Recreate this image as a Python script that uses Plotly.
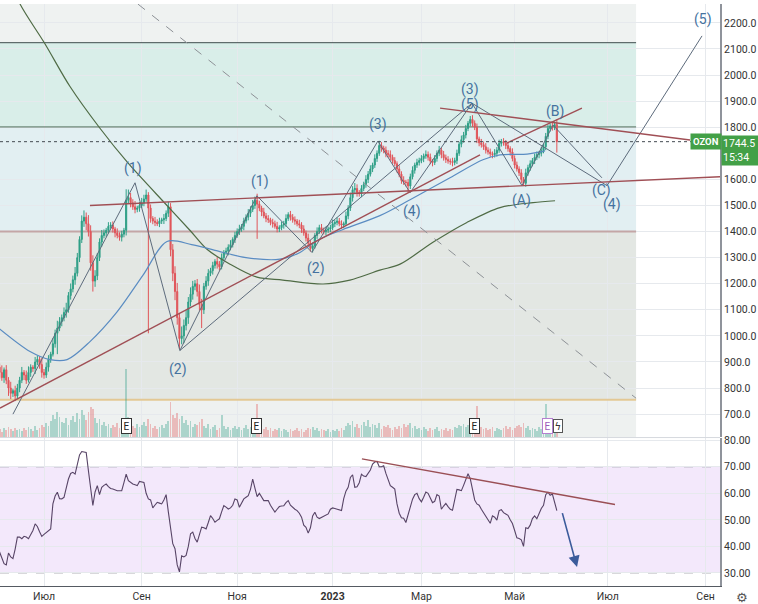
import numpy as np
import pandas as pd
import plotly.graph_objects as go

# ---------------- calendar (MOEX trading days) ----------------
holidays = ["2022-06-13", "2022-11-04", "2023-02-23", "2023-02-24",
            "2023-03-08", "2023-05-01", "2023-05-09", "2023-06-12"]
cal = [d for d in pd.bdate_range("2022-06-01", "2023-10-31")
       if d.strftime("%Y-%m-%d") not in holidays]

tick_months = ["2022-07", "2022-09", "2022-11", "2023-01", "2023-03", "2023-05", "2023-07", "2023-09"]
tick_labels = ["Июл", "Сен", "Ноя", "<b>2023</b>", "Мар", "Май", "Июл", "Сен"]
price_ticks = [700, 800, 900, 1000, 1100, 1200, 1300, 1400, 1500, 1600, 1800, 1900, 2000, 2100, 2200]
rsi_ticks = [30, 40, 50, 60, 70, 80]

# ---------------- OZON daily data ----------------
first_open = 900
closes = [
    880, 860, 840, 870, 830, 800, 780, 790, 770, 800,
    830, 860, 850, 830, 860, 880, 875, 900, 910, 890,
    860, 850, 880, 910, 930, 970, 1010, 1030, 1055, 1070,
    1090, 1100, 1155, 1180, 1215, 1240, 1300, 1370, 1440, 1455,
    1430, 1400, 1280, 1210, 1230, 1300, 1360, 1385, 1395, 1405,
    1420, 1425, 1410, 1395, 1385, 1378, 1390, 1405, 1520, 1530,
    1510, 1495, 1485, 1490, 1500, 1510, 1525, 1540, 1490, 1450,
    1440, 1435, 1430, 1440, 1445, 1450, 1470, 1495, 1330, 1240,
    1170, 1070, 990, 1000, 1040, 1070, 1130, 1160, 1190, 1200,
    1170, 1120, 1100, 1190, 1210, 1240, 1250, 1270, 1285, 1275,
    1265, 1300, 1320, 1325, 1340, 1350, 1370, 1385, 1400, 1410,
    1420, 1440, 1455, 1470, 1485, 1500, 1520, 1505, 1490, 1475,
    1460, 1450, 1445, 1435, 1430, 1420, 1410, 1415, 1425, 1430,
    1450, 1465, 1455, 1445, 1440, 1430, 1425, 1410, 1395, 1375,
    1355, 1335, 1345, 1385, 1400, 1415, 1405, 1400, 1405, 1410,
    1415, 1430, 1435, 1440, 1430, 1425, 1430, 1460, 1490, 1530,
    1560, 1565, 1550, 1545, 1565, 1580, 1600, 1620, 1640, 1655,
    1680, 1700, 1730, 1720, 1712, 1700, 1695, 1685, 1672, 1660,
    1640, 1620, 1596, 1590, 1588, 1575, 1610, 1635, 1655, 1665,
    1672, 1680, 1690, 1695, 1685, 1670, 1665, 1680, 1700, 1712,
    1695, 1683, 1676, 1670, 1668, 1665, 1672, 1700, 1735, 1752,
    1770, 1795, 1815, 1830, 1815, 1800, 1755, 1740, 1733, 1725,
    1712, 1705, 1698, 1695, 1700, 1712, 1738, 1745, 1740, 1730,
    1718, 1705, 1680, 1655, 1640, 1625, 1600, 1585, 1625, 1645,
    1660, 1672, 1685, 1695, 1700, 1710, 1725, 1765, 1795, 1805,
    1800, 1810, 1744.5,
]
up_wick = [
    22, 14, 27, 9, 18, 12, 24, 8, 19, 16,
    13, 21, 9, 17, 23, 11, 8, 19, 14, 12,
    26, 13, 18, 16, 9, 22, 14, 28, 17, 12,
    19, 27, 13, 21, 16, 24, 18, 12, 22, 26,
    18, 33, 24, 29, 22, 17, 14, 21, 13, 9,
    16, 11, 14, 8, 17, 12, 13, 9, 42, 31,
    18, 14, 22, 9, 13, 19, 16, 21, 11, 14,
    9, 16, 12, 13, 8, 17, 11, 19, 14, 22,
    27, 33, 18, 36, 23, 29, 19, 26, 21, 14,
    18, 27, 22, 13, 19, 16, 11, 14, 9, 17,
    12, 16, 9, 13, 11, 17, 8, 14, 12, 16,
    9, 13, 11, 16, 12, 21, 14, 25, 13, 9,
    16, 11, 13, 8, 14, 12, 17, 9, 13, 11,
    16, 9, 14, 12, 13, 8, 15, 11, 14, 9,
    17, 12, 13, 9, 16, 11, 14, 10, 13, 9,
    11, 16, 9, 14, 12, 13, 8, 17, 11, 19,
    14, 21, 16, 9, 13, 11, 16, 12, 14, 9,
    16, 11, 18, 13, 9, 14, 12, 16, 10, 13,
    9, 14, 11, 16, 8, 13, 12, 15, 9, 14,
    11, 13, 9, 16, 12, 14, 8, 13, 11, 16,
    9, 14, 12, 13, 10, 15, 11, 14, 9, 16,
    12, 14, 9, 13, 16, 11, 14, 9, 15, 12,
    14, 11, 13, 9, 16, 12, 14, 10, 13, 11,
    15, 9, 14, 12, 13, 10, 14, 9, 16, 11,
    13, 10, 14, 12, 9, 15, 11, 13, 14, 9,
    12, 12, 20,
]
down_wick = [
    18, 25, 12, 20, 15, 30, 22, 14, 20, 12,
    16, 11, 19, 14, 9, 17, 13, 21, 12, 16,
    20, 14, 11, 17, 13, 9, 15, 80, 12, 18,
    14, 20, 11, 16, 13, 19, 12, 17, 14, 22,
    25, 19, 30, 40, 22, 16, 13, 18, 11, 15,
    12, 9, 14, 17, 11, 13, 16, 12, 20, 14,
    17, 12, 15, 11, 14, 9, 13, 11, 480, 16,
    12, 14, 9, 13, 11, 16, 10, 14, 25, 30,
    33, 27, 40, 22, 28, 19, 24, 17, 21, 15,
    19, 23, 70, 16, 13, 18, 11, 15, 12, 17,
    14, 10, 13, 9, 16, 12, 11, 14, 9, 13,
    11, 15, 9, 12, 14, 10, 13, 133, 12, 16,
    9, 14, 12, 11, 15, 9, 13, 12, 10, 14,
    12, 9, 13, 11, 14, 10, 12, 15, 11, 13,
    14, 12, 15, 10, 13, 9, 12, 11, 14, 10,
    12, 9, 13, 11, 10, 14, 12, 9, 13, 11,
    15, 12, 16, 11, 13, 10, 12, 14, 9, 12,
    11, 13, 10, 14, 12, 15, 11, 13, 12, 10,
    14, 12, 13, 11, 15, 25, 12, 10, 13, 11,
    12, 10, 14, 11, 13, 12, 15, 10, 12, 11,
    14, 11, 13, 10, 12, 15, 11, 13, 10, 12,
    11, 13, 10, 12, 14, 11, 16, 13, 11, 12,
    13, 10, 12, 14, 11, 13, 10, 12, 11, 14,
    12, 14, 11, 13, 10, 12, 15, 10, 13, 11,
    12, 10, 13, 11, 14, 12, 10, 13, 11, 12,
    13, 11, 42,
]
volume = [
    6, 8, 5, 9, 7, 10, 8, 6, 9, 7,
    8, 6, 9, 7, 10, 8, 6, 11, 7, 9,
    12, 10, 14, 11, 16, 22, 18, 25, 20, 15,
    14, 19, 12, 17, 21, 15, 24, 18, 27, 22,
    17, 25, 30, 28, 19, 14, 18, 12, 15, 11,
    13, 9, 12, 10, 14, 9, 11, 13, 68, 20,
    14, 11, 9, 13, 10, 12, 15, 11, 18, 13,
    9, 11, 8, 10, 12, 9, 13, 16, 35, 22,
    19, 24, 18, 21, 14, 17, 12, 16, 10, 13,
    12, 15, 18, 11, 9, 13, 8, 10, 12, 7,
    9, 22, 11, 8, 10, 7, 9, 11, 8, 10,
    7, 9, 12, 8, 10, 11, 13, 33, 12, 9,
    8, 10, 7, 9, 6, 8, 7, 9, 6, 8,
    7, 5, 8, 6, 7, 9, 6, 8, 5, 7,
    9, 8, 10, 7, 9, 6, 8, 7, 6, 8,
    5, 7, 6, 8, 6, 9, 7, 11, 14, 12,
    16, 10, 13, 9, 12, 15, 11, 17, 10, 13,
    12, 9, 14, 8, 11, 10, 12, 9, 7, 10,
    8, 11, 9, 13, 10, 12, 14, 9, 11, 8,
    9, 7, 10, 8, 6, 9, 7, 8, 10, 6,
    8, 7, 9, 6, 8, 7, 10, 9, 12, 11,
    13, 10, 12, 14, 11, 9, 31, 12, 10, 8,
    9, 7, 8, 10, 6, 9, 8, 7, 9, 11,
    8, 10, 7, 9, 11, 12, 10, 14, 9, 11,
    7, 9, 8, 6, 10, 8, 9, 33, 13, 11,
    10, 9, 12,
]
rsi = [
    40, 38, 35.5, 33.5, 33, 37.5, 36, 35.4, 39, 43.5,
    43.5, 42.9, 43.8, 43.5, 42.9, 44.3, 46, 48.5, 47.5, 45.5,
    43.75, 44.5, 45.2, 46, 46.6, 56, 59, 60.4, 58, 57.9,
    58.5, 62, 65.4, 67.5, 67.9, 67.25, 71, 74.5, 75.75, 75.7,
    75.4, 68.5, 62, 55.4, 60.5, 62.9, 59.5, 62.25, 63, 63.5,
    62.5, 61.8, 61.6, 61.3, 61, 61, 61, 64, 67.25, 64.75,
    64, 63.5, 63.2, 62.9, 64.5, 64.4, 64.1, 60, 57.9, 57.5,
    54.5, 55.6, 56.6, 56.3, 56, 57.5, 59.5, 53, 46.6, 41,
    39.1, 33, 30.4, 36.4, 36, 36.6, 40, 44.75, 45.4, 43,
    41.6, 44, 47.25, 47, 46.6, 49, 51.6, 50.5, 49.1, 49.8,
    50.4, 53, 55.4, 54.8, 54.1, 54.5, 55.5, 57.9, 57.5, 54.75,
    56.5, 57.9, 58.5, 59.1, 61.5, 65.4, 62, 58.75, 60, 58.5,
    57.25, 57.25, 57.25, 55.5, 54, 52.9, 54, 55, 55.2, 55.3,
    56.5, 57.25, 55.5, 54.6, 54, 53.5, 52.5, 51, 48, 47.2,
    45, 47, 51.5, 52.9, 51, 50.5, 51, 51.4, 51.8, 52.25,
    54, 54.5, 54.3, 54.1, 53.8, 53.5, 58, 60.8, 62.25, 66,
    67, 62.3, 62.5, 64, 67.2, 66.5, 66.3, 67.5, 68.8, 71,
    71.8, 72, 70, 70, 70.4, 67.5, 65, 62.9, 62.3, 61.6,
    56, 52.5, 50.75, 50.6, 49, 52, 55.4, 57.8, 59.5, 60,
    58, 56.8, 58.5, 60.5, 60, 58.3, 56.5, 57, 59.5, 59,
    54, 55.2, 56.2, 55, 54, 53.6, 57, 61.5, 61.3, 61,
    63, 65.5, 67.4, 65.5, 62, 57.5, 56, 55.5, 54, 52.7,
    51, 49.6, 48.7, 51.5, 51, 49.9, 53.5, 53.8, 52.7, 52.2,
    51.7, 50, 48.6, 46, 43.2, 43, 42.5, 40, 47, 46.7,
    48, 50.5, 51.5, 50.4, 52.5, 54.3, 55.5, 59.5, 60.4, 59.3,
    59.7, 57, 53.5,
]

# moving averages (trading-day index, price)
ma200_t = [5.7, 10.2, 21.4, 32.7, 46.2, 58.8, 76.4, 86.8, 94.4, 104.8, 116.9, 128.6,
           146.7, 158.8, 172.3, 181.4, 196.2, 211.5, 226.4, 241.3, 251.2]
ma200_p = [2367, 2272, 2120, 1956, 1796, 1663, 1500, 1404, 1332, 1275, 1225, 1214,
           1199, 1214, 1252, 1275, 1359, 1435, 1492, 1511, 1518]
ma50_t = [0.5, 14.7, 23.7, 31.4, 41.7, 53.9, 65.6, 76.4, 87.5, 98.0, 112.0,
          127.3, 136.3, 144.0, 155.7, 172.3, 185.9, 203.9, 218.7, 226.4, 238.6, 246.7]
ma50_p = [1030, 940, 909, 909, 978, 1092, 1233, 1362, 1350, 1328, 1300,
          1294, 1320, 1366, 1408, 1461, 1522, 1606, 1675, 1694, 1697, 1709]

# Elliott wave pivots (trading-day index, price)
wave_big_t = [7.0, 62.0, 82.2]
wave_big_p = [700, 1587, 944]
wave_sub_t = [82.2, 116.9, 141.7, 171.4, 185.9, 213.8]
wave_sub_p = [944, 1537, 1320, 1747, 1549, 1892]
wave_23_t = [82.2, 213.8]
wave_23_p = [944, 1892]
wave_abc_t = [213.8, 236.3, 250.3, 272.3]
wave_abc_p = [1892, 1576, 1808, 1606]
wave_345_t = [213.8, 274.6, 317.4]
wave_345_p = [1892, 1576, 2150]

wave_labels = ["(1)", "(2)", "(1)", "(2)", "(3)", "(4)", "(3)", "(5)", "(A)", "(B)", "(C)", "(4)", "(5)"]
wave_label_t = [61.1, 81.4, 118.3, 143.5, 171.4, 186.8, 212.9, 212.9, 235.9, 251.2, 272.3, 276.9, 317.8]
wave_label_p = [1640, 871, 1591, 1260, 1812, 1477, 1945, 1888, 1518, 1861, 1557, 1503, 2211]

# trend lines (trading-day index, price)
trend_up_t, trend_up_p = [1.17, 217.4], [723, 1694]
neck_t, neck_p = [41.7, 330.0], [1500, 1612]
resist_t, resist_p = [199.4, 312.0], [1873, 1751]
wedge_t, wedge_p = [229.5, 263.3], [1739, 1873]
diag_t, diag_p = [63.3, 287.7], [2272, 761]
rsi_trend_t, rsi_trend_v = [164.2, 278.2], [73.0, 55.8]
rsi_arrow_t, rsi_arrow_v = [254.3, 261.1], [53.1, 32.2]

# horizontal zones and levels
zone_end_t = 287.7
zone_bounds = [(2124, 2400), (1801, 2124), (1400, 1801), (755, 1400), (500, 755)]
zone_colors = ["#eff2f1", "#d9eee9", "#e2eff2", "#e3e7e3", "#eef1f0"]
level_prices = [2124, 1801, 1400, 755]
level_colors = ["#3e4d4d", "#4d6a58", "#c4a6a6", "#e3c894"]
level_widths = [1, 1, 2, 2]
earn_t = [58, 116.5, 215, 247.6]
earn_price = 654
last_price = 1744.5
last_time = "15:34"
symbol = "OZON"

# ---------------- derived ----------------
n = len(closes)
def fit(a):
    a = list(a)
    return (a + [a[-1]] * n)[:n]
up_wick, down_wick, volume, rsi = fit(up_wick), fit(down_wick), fit(volume), fit(rsi)
opens = [first_open] + closes[:-1]
highs = [max(o, c) + u for o, c, u in zip(opens, closes, up_wick)]
lows = [min(o, c) - d for o, c, d in zip(opens, closes, down_wick)]
x = np.arange(n)
tickvals = []
for m in tick_months:
    idx = next(i for i, d in enumerate(cal) if d.strftime("%Y-%m") == m)
    tickvals.append(idx)

GREEN, RED = "#2e9f86", "#e0555a"
vol_colors = ["rgba(46,159,134,0.35)" if c >= o else "rgba(224,85,90,0.35)"
              for o, c in zip(opens, closes)]

X_RANGE = [1.17, 325.5]
Y_RANGE = [612.4, 2272.3]
RSI_RANGE = [25.06, 80.86]
MAIN_DOM = [0.256, 1.0]
RSI_DOM = [0.0, 0.2543]
FONT = "Roboto"

fig = go.Figure()

fig.add_trace(go.Bar(x=x, y=volume, marker_color=vol_colors, marker_line_width=0,
                     width=0.8, xaxis="x", yaxis="y3", hoverinfo="skip"))
fig.add_trace(go.Candlestick(
    x=x, open=opens, high=highs, low=lows, close=closes, xaxis="x", yaxis="y",
    increasing=dict(line=dict(color=GREEN, width=1), fillcolor=GREEN),
    decreasing=dict(line=dict(color=RED, width=1), fillcolor=RED),
    whiskerwidth=0, hoverinfo="skip"))

def line(tx, py, color, width=1, dash="solid", shape="linear", ax=("x", "y")):
    fig.add_trace(go.Scatter(x=tx, y=py, mode="lines", xaxis=ax[0], yaxis=ax[1],
                             line=dict(color=color, width=width, dash=dash, shape=shape,
                                       smoothing=0.9 if shape == "spline" else None),
                             hoverinfo="skip"))

line(ma200_t, ma200_p, "#4f6b45", 1.2, shape="spline")
line(ma50_t, ma50_p, "#5a8cc2", 1.2, shape="spline")
line(diag_t, diag_p, "#8d9196", 1, dash="dash")
WAVE = "#5d6b7c"
for tt, pp in [(wave_big_t, wave_big_p), (wave_sub_t, wave_sub_p), (wave_23_t, wave_23_p),
               (wave_abc_t, wave_abc_p), (wave_345_t, wave_345_p)]:
    line(tt, pp, WAVE, 1)
TREND = "#a04f55"
for tt, pp in [(trend_up_t, trend_up_p), (neck_t, neck_p), (resist_t, resist_p), (wedge_t, wedge_p)]:
    line(tt, pp, TREND, 1.4)
line([X_RANGE[0], X_RANGE[1]], [last_price, last_price], "#444a52", 1, dash="dot")

# RSI
line(x, rsi, "#574466", 1.1, ax=("x2", "y2"))
line(rsi_trend_t, rsi_trend_v, "#9a4f55", 1.4, ax=("x2", "y2"))

shapes = []
for (lo, hi), col in zip(zone_bounds, zone_colors):
    shapes.append(dict(type="rect", xref="x", yref="y", x0=-5, x1=zone_end_t, y0=lo, y1=hi,
                       fillcolor=col, line=dict(width=0), layer="below"))
for p, col, w in zip(level_prices, level_colors, level_widths):
    shapes.append(dict(type="line", xref="x", yref="y", x0=-5, x1=zone_end_t, y0=p, y1=p,
                       line=dict(color=col, width=w), layer="between"))
shapes.append(dict(type="rect", xref="paper", yref="y2", x0=0, x1=1, y0=30, y1=70,
                   fillcolor="#f3e8fb", line=dict(width=0), layer="below"))
for v in (70, 30):
    shapes.append(dict(type="line", xref="paper", yref="y2", x0=0, x1=1, y0=v, y1=v,
                       line=dict(color="#9c9ca4", width=1, dash="dash"), layer="between"))
shapes.append(dict(type="line", xref="paper", yref="paper", x0=0, x1=1,
                   y0=MAIN_DOM[0] - 0.0009, y1=MAIN_DOM[0] - 0.0009,
                   line=dict(color="#d6d9de", width=1)))

annotations = []
for txt, tt, pp in zip(wave_labels, wave_label_t, wave_label_p):
    annotations.append(dict(x=tt, y=pp, xref="x", yref="y", text=txt, showarrow=False,
                            font=dict(family=FONT, size=14, color="#45729f")))
for i, tt in enumerate(earn_t):
    last = i == len(earn_t) - 1
    annotations.append(dict(x=tt, y=earn_price, xref="x", yref="y", text="E", showarrow=False,
                            font=dict(family=FONT, size=10, color="#9c5ab8" if last else "#222"),
                            bgcolor="white", bordercolor="#b57fd0" if last else "#333",
                            borderwidth=1, borderpad=1.5))
annotations.append(dict(x=earn_t[-1] + 5, y=earn_price, xref="x", yref="y", text="ϟ",
                        showarrow=False, font=dict(family="DejaVu Sans", size=10, color="#333"),
                        bgcolor="white", bordercolor="#555", borderwidth=1, borderpad=0.5))
annotations.append(dict(x=rsi_arrow_t[1], y=rsi_arrow_v[1], ax=rsi_arrow_t[0], ay=rsi_arrow_v[0],
                        xref="x2", yref="y2", axref="x2", ayref="y2", text="", showarrow=True,
                        arrowhead=2, arrowsize=1.4, arrowwidth=1.6, arrowcolor="#3b5b9b"))
annotations.append(dict(x=690 / 720, y=last_price, xref="paper", yref="y", xanchor="left",
                        text="<b>" + symbol + "</b>", showarrow=False, bgcolor="#43a047",
                        font=dict(family=FONT, size=9.5, color="white"), borderpad=2))
annotations.append(dict(x=1.0, y=last_price, xref="paper", yref="y", xanchor="left", yanchor="top",
                        yshift=7, xshift=1, text=f"{last_price:.1f}<br>{last_time}", showarrow=False,
                        bgcolor="#43a047", align="left", width=34,
                        font=dict(family=FONT, size=10.5, color="white"), borderpad=1))
annotations.append(dict(x=1.0, y=0, xref="paper", yref="paper", xanchor="left", yanchor="top",
                        xshift=14, yshift=-2, text="⚙", showarrow=False,
                        font=dict(family="DejaVu Sans", size=13, color="#555")))

GRID = "#e6e9ed"
fig.update_layout(
    width=758, height=604, margin=dict(l=0, r=38, t=0, b=18),
    paper_bgcolor="white", plot_bgcolor="white", showlegend=False,
    font=dict(family=FONT, size=10.5, color="#333"),
    shapes=shapes, annotations=annotations, bargap=0,
    xaxis=dict(domain=[0, 1], range=X_RANGE, anchor="y", tickvals=tickvals, showticklabels=False,
               showgrid=True, gridcolor=GRID, zeroline=False, rangeslider=dict(visible=False),
               showline=False, ticks=""),
    xaxis2=dict(domain=[0, 1], range=X_RANGE, anchor="y2", matches="x", tickvals=tickvals,
                ticktext=tick_labels, showgrid=True, gridcolor=GRID, zeroline=False,
                showline=True, linecolor="#555a62", linewidth=1, ticks="",
                tickfont=dict(family=FONT, size=10.5, color="#333")),
    yaxis=dict(domain=MAIN_DOM, range=Y_RANGE, side="right", anchor="x",
               tickvals=price_ticks, tickformat=".1f", showgrid=True,
               gridcolor=GRID, zeroline=False, showline=True, linecolor="#8f939b", linewidth=2,
               ticks="", tickfont=dict(family=FONT, size=10.5, color="#333")),
    yaxis2=dict(domain=RSI_DOM, range=RSI_RANGE, side="right", anchor="x2",
                tickvals=rsi_ticks, tickformat=".2f", showgrid=True,
                gridcolor=GRID, zeroline=False, showline=True, linecolor="#8f939b", linewidth=2,
                ticks="", tickfont=dict(family=FONT, size=10.5, color="#333")),
    yaxis3=dict(overlaying="y", range=[0, 436], visible=False, anchor="x"),
)

fig.write_html("out.html", config={"displayModeBar": False})
with open("out.html", "r", encoding="utf-8") as fh:
    html = fh.read()
html = html.replace("<head>", "<head><style>html,body{margin:0;padding:0;overflow:hidden;}</style>", 1)
with open("out.html", "w", encoding="utf-8") as fh:
    fh.write(html)
